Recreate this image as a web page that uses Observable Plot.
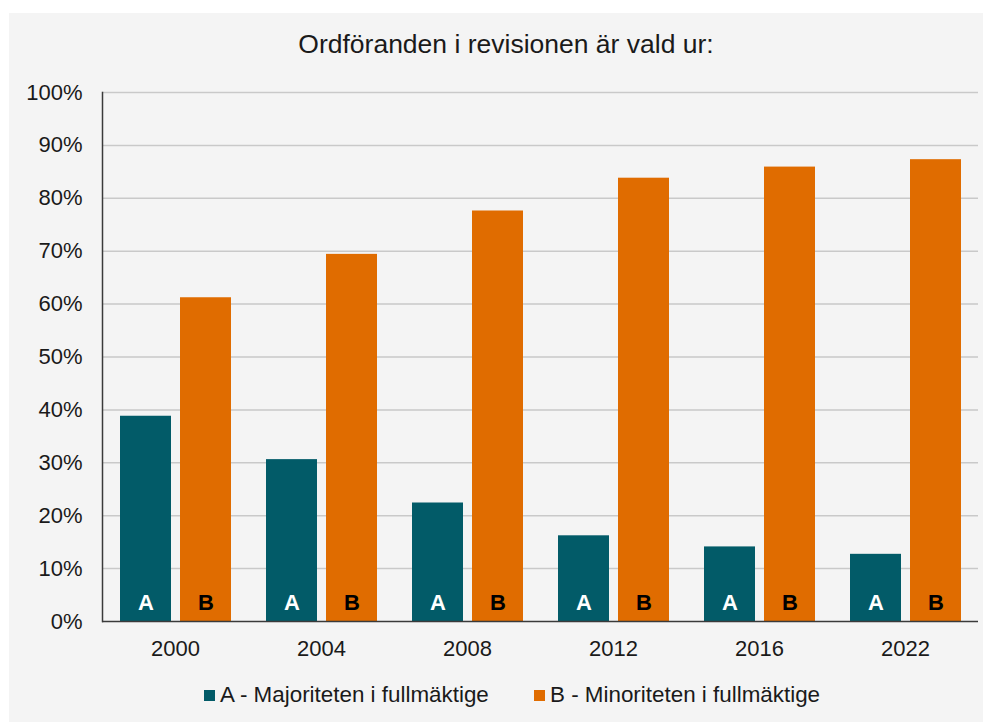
<!DOCTYPE html>
<html>
<head>
<meta charset="utf-8">
<script src="https://cdn.jsdelivr.net/npm/d3@7"></script>
<script src="https://cdn.jsdelivr.net/npm/@observablehq/plot@0.6"></script>
<style>
  html, body { margin: 0; padding: 0; background: #ffffff; width: 992px; height: 722px; overflow: hidden; font-family: "Liberation Sans", Arial, sans-serif; }
  #panel { position: absolute; left: 9px; top: 13px; width: 974px; height: 712px; background: #f4f4f4; }
  #title { position: absolute; left: 0; width: 1012px; top: 29px; text-align: center; font-size: 26.5px; color: #1a1a1a; white-space: nowrap; }
  #chart { position: absolute; left: 0; top: 70px; }
  .leg { position: absolute; top: 681px; font-size: 22.4px; color: #1a1a1a; white-space: nowrap; line-height: 28px; }
  .sw { position: absolute; top: 690px; width: 11px; height: 11px; }
</style>
</head>
<body>
<div id="panel"></div>
<div id="title">Ordföranden i revisionen är vald ur:</div>
<div id="chart"></div>
<div id="legend"></div>
<script>
const years = ["2000", "2004", "2008", "2012", "2016", "2022"];
const seriesKeys = ["A", "B"];
const seriesNames = ["A - Majoriteten i fullmäktige", "B - Minoriteten i fullmäktige"];
const seriesColors = ["#025b68", "#e06c00"];
const labelColors = ["#ffffff", "#000000"];
const majoritet = [38.8, 30.6, 22.4, 16.2, 14.1, 12.7];
const minoritet = [61.2, 69.4, 77.6, 83.8, 85.9, 87.3];
const yTicks = [0, 10, 20, 30, 40, 50, 60, 70, 80, 90, 100];

const data = [];
years.forEach((y, i) => {
  data.push({year: y, series: "A", value: majoritet[i]});
  data.push({year: y, series: "B", value: minoritet[i]});
});

const font = '"Liberation Sans", Arial, sans-serif';

const chart = Plot.plot({
  width: 992,
  height: 601,
  marginLeft: 101,
  marginRight: 14,
  marginTop: 22,
  marginBottom: 50,
  style: {background: "transparent", fontFamily: font, fontSize: "22px", color: "#1a1a1a"},
  fx: {domain: years, padding: 0, label: null},
  x: {domain: seriesKeys, paddingInner: 0.15, paddingOuter: 0.29, axis: null},
  y: {domain: [0, 100], label: null},
  color: {domain: seriesKeys, range: seriesColors},
  marks: [
    Plot.ruleY(yTicks.filter(d => d > 0), {stroke: "#c9c9c9", strokeWidth: 1.5}),
    Plot.axisY({ticks: yTicks, tickFormat: d => d + "%", tickSize: 0, tickPadding: 20, fontSize: 22, label: null, fill: "#1a1a1a"}),
    Plot.axisFx({anchor: "bottom", tickSize: 0, tickPadding: 19, fontSize: 22, label: null, fill: "#1a1a1a"}),
    Plot.barY(data, {fx: "year", x: "series", y: "value", fill: "series"}),
    Plot.text(data, {fx: "year", x: "series", y: 0, text: "series", lineAnchor: "bottom", dy: -12,
      fill: d => labelColors[seriesKeys.indexOf(d.series)], fontWeight: "bold", fontSize: 22}),
    Plot.ruleY([0], {stroke: "#3a3a3a", strokeWidth: 1.5}),
    Plot.frame({anchor: "left", facetAnchor: "left", stroke: "#3a3a3a", strokeWidth: 1.5})
  ]
});
document.getElementById("chart").appendChild(chart);

const legend = document.getElementById("legend");
const legX = [204, 534];
seriesNames.forEach((name, i) => {
  const sw = document.createElement("div");
  sw.className = "sw";
  sw.style.left = legX[i] + "px";
  sw.style.background = seriesColors[i];
  legend.appendChild(sw);
  const t = document.createElement("div");
  t.className = "leg";
  t.style.left = (legX[i] + 16) + "px";
  t.textContent = name;
  legend.appendChild(t);
});
</script>
</body>
</html>
